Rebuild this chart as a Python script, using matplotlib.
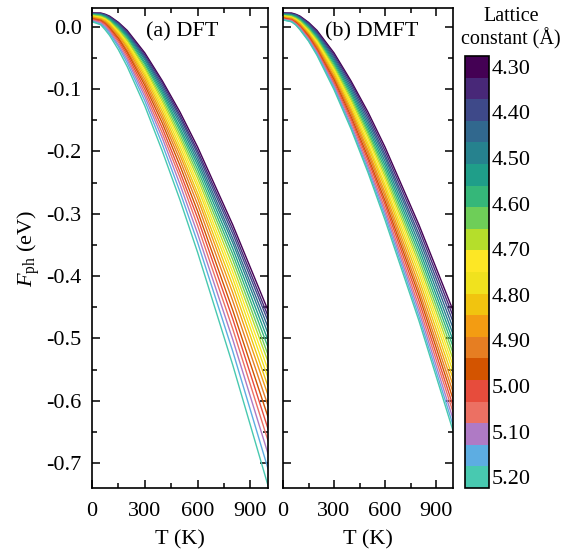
import matplotlib
matplotlib.use("Agg")
import matplotlib.pyplot as plt
import numpy as np
from matplotlib.colors import ListedColormap, Normalize
from matplotlib.cm import ScalarMappable
from matplotlib.ticker import MultipleLocator, FormatStrFormatter

plt.rcParams['font.family'] = ['Liberation Serif', 'DejaVu Serif']
plt.rcParams['mathtext.fontset'] = 'custom'
plt.rcParams['mathtext.rm'] = 'Liberation Serif'
plt.rcParams['mathtext.it'] = 'Liberation Serif:italic'

# temperatures (K) at which the curves were read
T = [0, 50, 75, 100, 150, 200, 300, 400, 500, 600, 800, 1000]

# F_ph (eV), one row per lattice constant, 4.30 A (top) -> 5.20 A (bottom)
F_dft = [
    [0.022, 0.022, 0.020, 0.017, 0.007, -0.006, -0.042, -0.087, -0.137, -0.193, -0.318, -0.455],
    [0.022, 0.021, 0.019, 0.016, 0.006, -0.008, -0.045, -0.090, -0.142, -0.199, -0.325, -0.464],
    [0.021, 0.021, 0.019, 0.015, 0.005, -0.010, -0.048, -0.094, -0.146, -0.204, -0.332, -0.472],
    [0.021, 0.020, 0.018, 0.014, 0.003, -0.012, -0.050, -0.098, -0.151, -0.210, -0.340, -0.482],
    [0.020, 0.019, 0.017, 0.013, 0.002, -0.014, -0.053, -0.102, -0.156, -0.216, -0.347, -0.492],
    [0.020, 0.019, 0.016, 0.012, 0.000, -0.016, -0.057, -0.106, -0.162, -0.222, -0.356, -0.503],
    [0.019, 0.018, 0.015, 0.011, -0.002, -0.018, -0.060, -0.110, -0.167, -0.229, -0.365, -0.514],
    [0.019, 0.017, 0.014, 0.009, -0.004, -0.021, -0.064, -0.115, -0.173, -0.236, -0.374, -0.526],
    [0.018, 0.016, 0.013, 0.008, -0.006, -0.023, -0.067, -0.120, -0.179, -0.243, -0.384, -0.537],
    [0.017, 0.015, 0.012, 0.007, -0.008, -0.026, -0.071, -0.125, -0.185, -0.251, -0.394, -0.550],
    [0.017, 0.014, 0.011, 0.005, -0.010, -0.028, -0.075, -0.130, -0.192, -0.258, -0.404, -0.563],
    [0.016, 0.013, 0.010, 0.004, -0.012, -0.031, -0.079, -0.136, -0.199, -0.267, -0.415, -0.577],
    [0.015, 0.012, 0.008, 0.002, -0.014, -0.034, -0.084, -0.142, -0.206, -0.275, -0.427, -0.591],
    [0.014, 0.011, 0.007, 0.000, -0.017, -0.038, -0.089, -0.148, -0.214, -0.285, -0.440, -0.608],
    [0.013, 0.010, 0.005, -0.002, -0.019, -0.041, -0.094, -0.155, -0.223, -0.296, -0.455, -0.626],
    [0.012, 0.009, 0.004, -0.004, -0.022, -0.045, -0.100, -0.163, -0.233, -0.307, -0.469, -0.645],
    [0.011, 0.007, 0.002, -0.006, -0.025, -0.049, -0.106, -0.171, -0.242, -0.319, -0.485, -0.664],
    [0.010, 0.006, 0.000, -0.008, -0.029, -0.053, -0.112, -0.179, -0.253, -0.332, -0.502, -0.685],
    [0.009, 0.004, -0.002, -0.011, -0.032, -0.058, -0.119, -0.189, -0.265, -0.346, -0.521, -0.709],
    [0.008, 0.003, -0.005, -0.014, -0.037, -0.064, -0.127, -0.200, -0.278, -0.362, -0.543, -0.736],
]

F_dmft = [
    [0.022, 0.022, 0.020, 0.017, 0.007, -0.006, -0.042, -0.087, -0.137, -0.193, -0.318, -0.455],
    [0.022, 0.021, 0.019, 0.016, 0.006, -0.008, -0.045, -0.090, -0.142, -0.199, -0.325, -0.464],
    [0.021, 0.020, 0.019, 0.015, 0.004, -0.010, -0.048, -0.094, -0.147, -0.205, -0.333, -0.473],
    [0.021, 0.020, 0.018, 0.014, 0.003, -0.012, -0.051, -0.098, -0.152, -0.210, -0.340, -0.483],
    [0.020, 0.019, 0.017, 0.013, 0.001, -0.014, -0.054, -0.102, -0.157, -0.216, -0.348, -0.493],
    [0.019, 0.018, 0.016, 0.012, 0.000, -0.016, -0.057, -0.106, -0.162, -0.222, -0.356, -0.503],
    [0.019, 0.018, 0.015, 0.011, -0.002, -0.018, -0.060, -0.110, -0.167, -0.228, -0.364, -0.513],
    [0.018, 0.017, 0.014, 0.010, -0.003, -0.020, -0.063, -0.114, -0.171, -0.234, -0.372, -0.523],
    [0.018, 0.016, 0.013, 0.008, -0.005, -0.022, -0.066, -0.118, -0.176, -0.240, -0.380, -0.533],
    [0.017, 0.015, 0.012, 0.007, -0.007, -0.024, -0.069, -0.122, -0.181, -0.246, -0.388, -0.543],
    [0.016, 0.015, 0.011, 0.006, -0.008, -0.027, -0.072, -0.126, -0.187, -0.253, -0.396, -0.553],
    [0.016, 0.014, 0.010, 0.005, -0.010, -0.029, -0.075, -0.131, -0.192, -0.259, -0.405, -0.564],
    [0.015, 0.013, 0.009, 0.004, -0.012, -0.031, -0.079, -0.135, -0.198, -0.266, -0.414, -0.575],
    [0.014, 0.012, 0.008, 0.002, -0.013, -0.033, -0.082, -0.139, -0.203, -0.272, -0.423, -0.586],
    [0.014, 0.011, 0.007, 0.001, -0.015, -0.036, -0.085, -0.144, -0.209, -0.279, -0.431, -0.597],
    [0.013, 0.011, 0.006, 0.000, -0.017, -0.038, -0.089, -0.148, -0.214, -0.285, -0.440, -0.608],
    [0.012, 0.010, 0.005, -0.001, -0.019, -0.040, -0.092, -0.152, -0.220, -0.292, -0.449, -0.618],
    [0.012, 0.009, 0.004, -0.003, -0.020, -0.042, -0.095, -0.157, -0.225, -0.298, -0.457, -0.629],
    [0.011, 0.008, 0.003, -0.004, -0.022, -0.044, -0.098, -0.161, -0.230, -0.304, -0.465, -0.639],
    [0.011, 0.008, 0.003, -0.005, -0.023, -0.046, -0.101, -0.164, -0.234, -0.310, -0.472, -0.648],
]

cbar_ticks = [4.30, 4.40, 4.50, 4.60, 4.70, 4.80, 4.90, 5.00, 5.10, 5.20]

# viridis for the small lattice constants, flat colours for the large ones
colors = [matplotlib.colors.to_hex(c) for c in plt.cm.viridis(np.linspace(0, 1, 10))] + [
    '#f0e21e', '#f1c40f', '#f39c12', '#e67e22', '#d35400',
    '#e74c3c', '#ec7063', '#af7ac5', '#5dade2', '#48c9b0',
]

fig = plt.figure(figsize=(5.66, 5.5), dpi=100)
ax1 = fig.add_axes([92/566, 62/550, 176/566, 480/550])
ax2 = fig.add_axes([283/566, 62/550, 170/566, 480/550])
cax = fig.add_axes([465/566, 62/550, 24/566, 432/550])

for ax, data, label, lx in [(ax1, F_dft, '(a) DFT', 0.51), (ax2, F_dmft, '(b) DMFT', 0.52)]:
    for row, c in zip(data, colors):
        ax.plot(T, row, color=c, lw=1.0)
    ax.set_xlim(0, 1000)
    ax.set_ylim(-0.74, 0.03)
    ax.xaxis.set_major_locator(MultipleLocator(300))
    ax.xaxis.set_minor_locator(MultipleLocator(150))
    ax.yaxis.set_major_locator(MultipleLocator(0.1))
    ax.yaxis.set_minor_locator(MultipleLocator(0.05))
    ax.tick_params(which='both', direction='in', top=True, right=True, width=1.1, labelsize=16)
    ax.tick_params(which='major', length=6)
    ax.tick_params(which='minor', length=3.5)
    ax.tick_params(axis='x', which='major', pad=10)
    ax.tick_params(axis='y', which='major', pad=7.5)
    for s in ax.spines.values():
        s.set_linewidth(1.2)
    ax.set_xlabel('T (K)', fontsize=16, labelpad=7)
    ax.text(lx, 0.95, label, transform=ax.transAxes, ha='center', va='center', fontsize=16)

ax1.yaxis.set_major_formatter(FormatStrFormatter('%.1f'))
ax1.set_ylabel(r'$F_{\rm ph}$ (eV)', fontsize=16, labelpad=3)
ax2.set_yticklabels([])

d = (cbar_ticks[-1] - cbar_ticks[0]) / (len(colors) - 1)
sm = ScalarMappable(norm=Normalize(cbar_ticks[0] - d/2, cbar_ticks[-1] + d/2),
                    cmap=ListedColormap(colors))
cb = fig.colorbar(sm, cax=cax, ticks=cbar_ticks)
cb.ax.invert_yaxis()
cb.ax.set_yticklabels(['%.2f' % v for v in cbar_ticks])
cb.ax.tick_params(length=0, pad=2, labelsize=16)
cb.outline.set_linewidth(1.2)
fig.text(511/566, 1 - 28/550, 'Lattice\nconstant (Å)', ha='center', va='center',
         fontsize=14.5, linespacing=1.1)

fig.savefig('out.png', dpi=100)
